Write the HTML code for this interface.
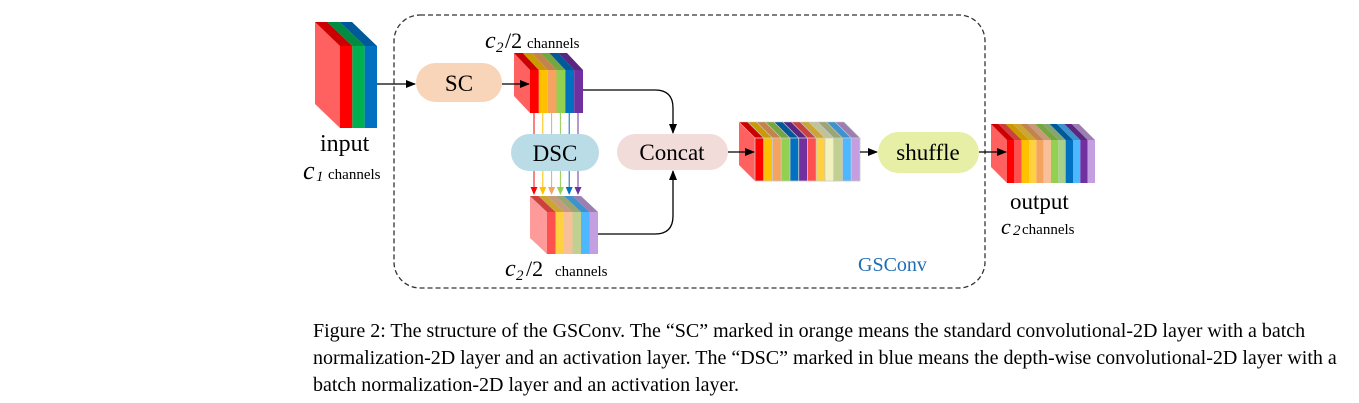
<!DOCTYPE html>
<html><head><meta charset="utf-8">
<style>
html,body{margin:0;padding:0;background:#fff;}
body{width:1359px;height:403px;position:relative;overflow:hidden;font-family:"Liberation Serif",serif;}
.cap{position:absolute;left:313px;font-size:20px;color:#000;white-space:nowrap;line-height:20px;}
</style></head>
<body>
<svg id="s" width="1359" height="300" style="position:absolute;left:0;top:0" xmlns="http://www.w3.org/2000/svg" font-family="Liberation Serif, serif">
<defs>
<marker id="ah" markerWidth="10" markerHeight="8" refX="9" refY="4" orient="auto" markerUnits="userSpaceOnUse"><path d="M0,0 L10,4 L0,8 z" fill="#000"/></marker>
</defs>
<rect x="394" y="15" width="591" height="273" rx="26" fill="none" stroke="#333" stroke-width="1.3" stroke-dasharray="5,3"/>
<g id="blocks"></g>
<rect x="416" y="63" width="86" height="39" rx="19.5" fill="#f8d5b8"/>
<text x="459" y="91" font-size="23" text-anchor="middle">SC</text>
<rect x="511" y="134" width="88" height="37" rx="18.5" fill="#b9dce7"/>
<text x="555" y="161" font-size="23" text-anchor="middle">DSC</text>
<rect x="617" y="134" width="111" height="36" rx="18" fill="#f2dcda"/>
<text x="672" y="160" font-size="23" text-anchor="middle">Concat</text>
<rect x="878" y="132" width="101" height="41" rx="20.5" fill="#e7eea6"/>
<text x="928" y="160" font-size="23" text-anchor="middle">shuffle</text>
<g stroke="#000" stroke-width="1.3" fill="none">
<line x1="377" y1="84" x2="415" y2="84" marker-end="url(#ah)"/>
<line x1="502" y1="84" x2="529" y2="84" marker-end="url(#ah)"/>
<path d="M583,90 L655,90 Q673,90 673,108 L673,133" marker-end="url(#ah)"/>
<path d="M598,234 L655,234 Q673,234 673,216 L673,171" marker-end="url(#ah)"/>
<line x1="728" y1="152" x2="754" y2="152" marker-end="url(#ah)"/>
<line x1="860" y1="152" x2="877" y2="152" marker-end="url(#ah)"/>
<line x1="979" y1="152" x2="1006" y2="152" marker-end="url(#ah)"/>
</g>
<g id="varr"></g>
<text x="485" y="48" font-size="24" font-style="italic">c</text><text x="496" y="52" font-size="15" font-style="italic">2</text><text x="505" y="48" font-size="22">/2</text><text x="527" y="48" font-size="15">channels</text>
<text x="320" y="151" font-size="24">input</text>
<text x="303" y="179" font-size="26" font-style="italic">c</text><text x="316" y="181" font-size="15" font-style="italic">1</text><text x="328" y="179" font-size="15">channels</text>
<text x="505" y="276" font-size="24" font-style="italic">c</text><text x="516" y="280" font-size="15" font-style="italic">2</text><text x="526" y="276" font-size="22">/2</text><text x="555" y="276" font-size="15">channels</text>
<text x="858" y="271" font-size="20" fill="#1f6db4">GSConv</text>
<text x="1010" y="209" font-size="23">output</text>
<text x="1001" y="234" font-size="22" font-style="italic">c</text><text x="1013" y="235" font-size="15" font-style="italic">2</text><text x="1022" y="234" font-size="15">channels</text>
</svg>
<div class="cap" style="top:321px">Figure 2: The structure of the GSConv. The “SC” marked in orange means the standard convolutional-2D layer with a batch</div>
<div class="cap" style="top:348px">normalization-2D layer and an activation layer. The “DSC” marked in blue means the depth-wise convolutional-2D layer with a</div>
<div class="cap" style="top:375px">batch normalization-2D layer and an activation layer.</div>
<script>
function shade(c,f){var n=parseInt(c.slice(1),16),r=n>>16,g=(n>>8)&255,b=n&255;r=Math.round(r*f);g=Math.round(g*f);b=Math.round(b*f);return 'rgb('+r+','+g+','+b+')';}
function block(x0,y0,x1,y1,dx,dy,cols,side,stroke){
 var s='',n=cols.length,w=(x1-x0)/n;
 s+='<polygon points="'+(x0-dx)+','+(y0-dy)+' '+x0+','+y0+' '+x0+','+y1+' '+(x0-dx)+','+(y1-dy)+'" fill="'+side+'"/>';
 for(var i=0;i<n;i++){
  var a=x0+i*w,b=a+w;
  s+='<polygon points="'+(a-dx)+','+(y0-dy)+' '+(b-dx)+','+(y0-dy)+' '+b+','+y0+' '+a+','+y0+'" fill="'+shade(cols[i],0.8)+'"'+(stroke?' stroke="#c8c8c8" stroke-width="0.6"':'')+'/>';
 }
 for(var i=0;i<n;i++){
  var a=x0+i*w;
  s+='<rect x="'+a+'" y="'+y0+'" width="'+w+'" height="'+(y1-y0)+'" fill="'+cols[i]+'"'+(stroke?' stroke="#c8c8c8" stroke-width="0.8"':'')+'/>';
 }
 return s;
}
var g='';
g+=block(340,46,377,128,25,24,['#ff0000','#00b050','#0070c0'],'#ff6060',false);
g+=block(530,70,583,113,16,17,['#ff0000','#ffc000','#f4a460','#92d050','#0070c0','#7030a0'],'#ff6060',false);
g+=block(547,212,598,254,17,16,['#ff5050','#ffd040','#f8c098','#c0d090','#4db8ff','#c49ee0'],'#ff9a9a',false);
g+=block(755,138,860,181,16,16,['#ff0000','#ffc000','#f4a460','#92d050','#0070c0','#7030a0','#ff5050','#ffd040','#f2f2c0','#c0d090','#4db8ff','#c49ee0'],'#ff6060',true);
g+=block(1007,140,1095,183,16,16,['#ff0000','#ff5050','#ffc000','#ffd040','#f4a460','#f8c098','#92d050','#a8d08d','#0070c0','#4db8ff','#7030a0','#c49ee0'],'#ff6060',false);
document.getElementById('blocks').innerHTML=g;
var vc=['#ff0000','#ffc000','#f4a460','#92d050','#0070c0','#7030a0'],v='';
for(var i=0;i<6;i++){var x=534+i*8.8;
 v+='<line x1="'+x+'" y1="113" x2="'+x+'" y2="134" stroke="'+vc[i]+'" stroke-width="1"/>';
 v+='<line x1="'+x+'" y1="171" x2="'+x+'" y2="188" stroke="'+vc[i]+'" stroke-width="1"/>';
 v+='<polygon points="'+(x-3.5)+',187 '+(x+3.5)+',187 '+x+',195" fill="'+vc[i]+'"/>';}
document.getElementById('varr').innerHTML=v;
</script>
</body></html>
